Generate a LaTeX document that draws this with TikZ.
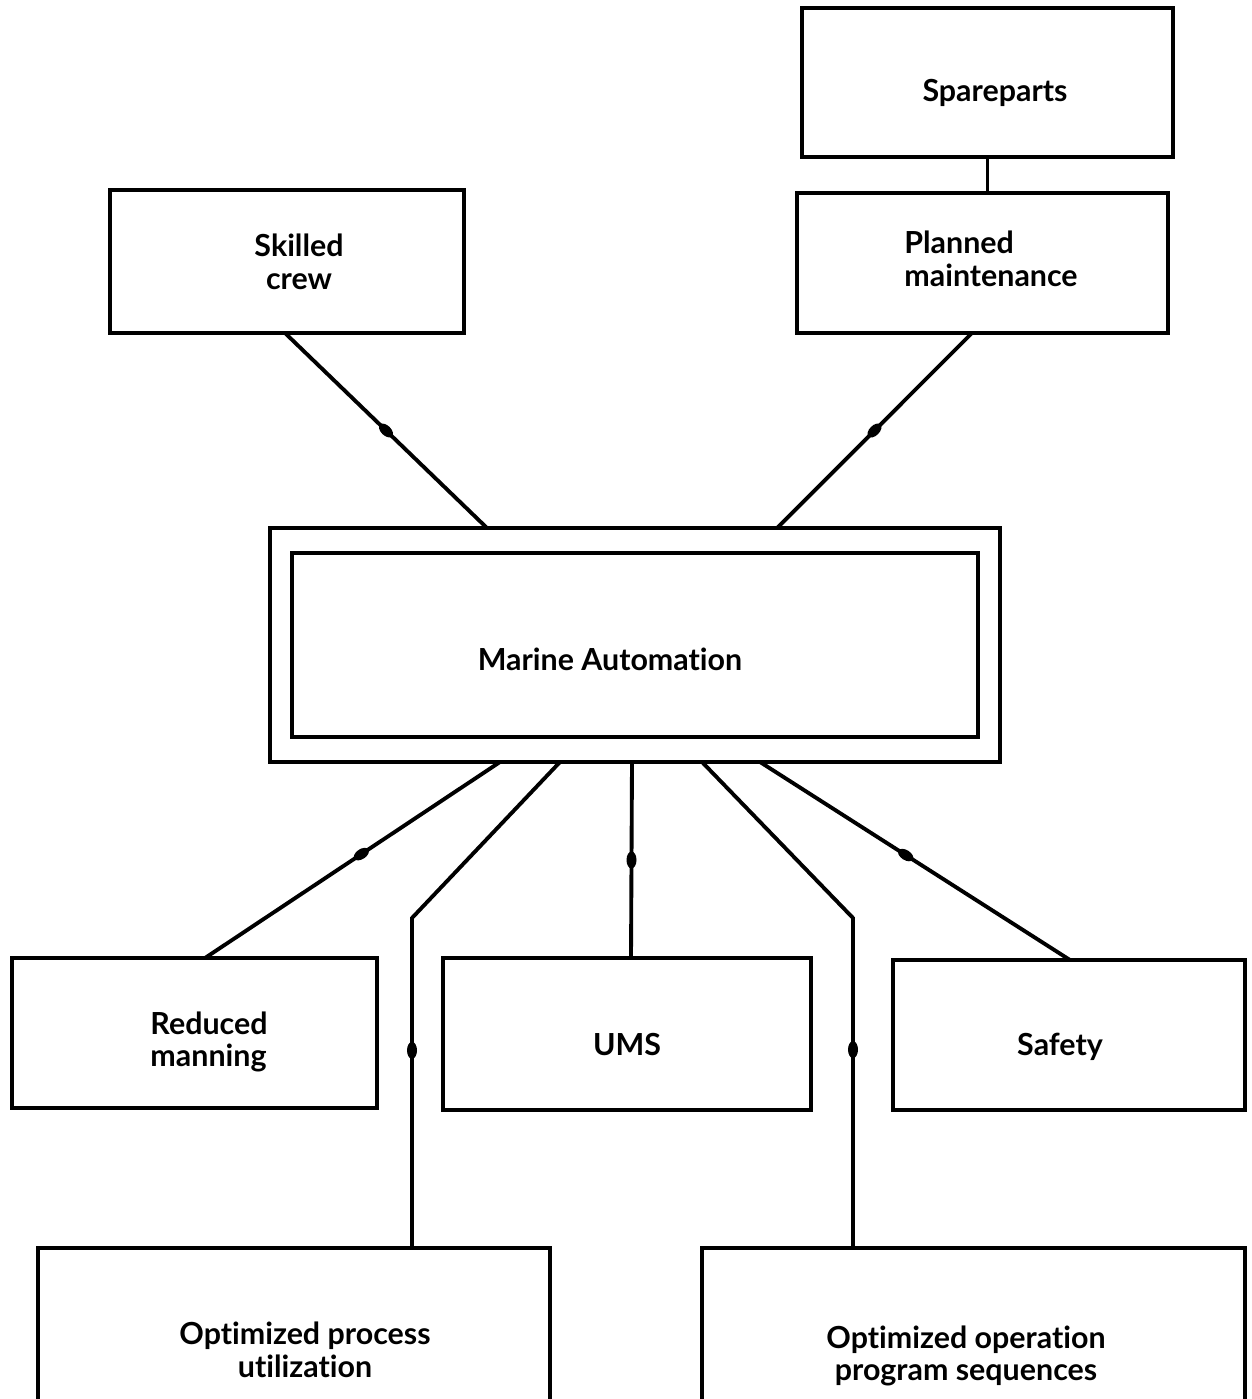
\documentclass[tikz,border=0pt]{standalone}
\usepackage{fontspec}
\setmainfont{Lato}[Ligatures=NoCommon]
\usetikzlibrary{calc,decorations.markings}
\tikzset{
  box/.style={draw, line width=2.6pt, inner sep=0pt, outer sep=0pt},
  txt/.style={inner sep=0pt, align=center, font=\fontsize{17.3}{18.6}\selectfont\bfseries},
  conn/.style={line width=2.2pt},
  blobat/.style={postaction={decorate}, decoration={markings,
    mark=at position #1 with {\fill (0,0) ellipse (0.17cm and 0.1cm);}}}
}
\begin{document}
\begin{tikzpicture}[x=0.02cm,y=-0.02cm]
\useasboundingbox (0,0) rectangle (1251,1399);
% boxes
\node[box, minimum width=7.42cm, minimum height=2.98cm] (spare) at (987.5,82.5) {};
\node[box, minimum width=7.42cm, minimum height=2.80cm] (plan) at (982.5,263) {};
\node[box, minimum width=7.08cm, minimum height=2.86cm] (crew) at (287,261.5) {};
\node[box, minimum width=14.6cm, minimum height=4.68cm] (maout) at (635,645) {};
\node[box, minimum width=13.72cm, minimum height=3.68cm] (main) at (635,645) {};
\node[box, minimum width=7.30cm, minimum height=3.00cm] (red) at (194.5,1033) {};
\node[box, minimum width=7.36cm, minimum height=3.04cm] (ums) at (627,1034) {};
\node[box, minimum width=7.04cm, minimum height=3.00cm] (safety) at (1069,1035) {};
\node[box, minimum width=10.24cm, minimum height=3.24cm] (opu) at (294,1329) {};
\node[box, minimum width=10.86cm, minimum height=3.24cm] (opo) at (973.5,1329) {};
% texts
\node[txt] (sparet) at (995,93) {Spareparts};
\node[txt, align=left] (plant) at (991,259) {Planned\\maintenance};
\node[txt] (crewt) at (299,262) {Skilled\\crew};
\node[txt] (mat) at (610,659) {Marine Automation};
\node[txt, align=left] (redt) at (209,1042) {Reduced\\manning};
\node[txt] (umst) at (627,1044) {UMS};
\node[txt] (safetyt) at (1060,1047) {Safety};
\node[txt] (oput) at (305,1350) {Optimized process\\utilization};
\node[txt] (opot) at (966,1356) {Optimized operation\\program sequences};
% bend points
\coordinate (b1) at (412,918);
\coordinate (b2) at (853,918);
% connectors
\draw[conn] (spare.south) -- (plan.north -| spare.south);
\draw[conn, blobat=0.5] ($(crew.south)+(-2,0)$) -- ($(maout.north)+(-148,0)$);
\draw[conn, blobat=0.5] ($(plan.south)+(-10.5,0)$) -- ($(maout.north)+(142,0)$);
\draw[conn, blobat=0.47] ($(maout.south)+(-135,0)$) -- ($(red.north)+(10.5,0)$);
\draw[conn, blobat=0.637] ($(maout.south)+(-75,0)$) -- (b1) -- (opu.north -| b1);
\draw[conn, blobat=0.5] ($(maout.south)+(-3,0)$) -- ($(ums.north)+(4,0)$);
\draw[conn, blobat=0.637] ($(maout.south)+(67,0)$) -- (b2) -- (opo.north -| b2);
\draw[conn, blobat=0.47] ($(maout.south)+(125,0)$) -- ($(safety.north)+(1,0)$);
\end{tikzpicture}
\end{document}
